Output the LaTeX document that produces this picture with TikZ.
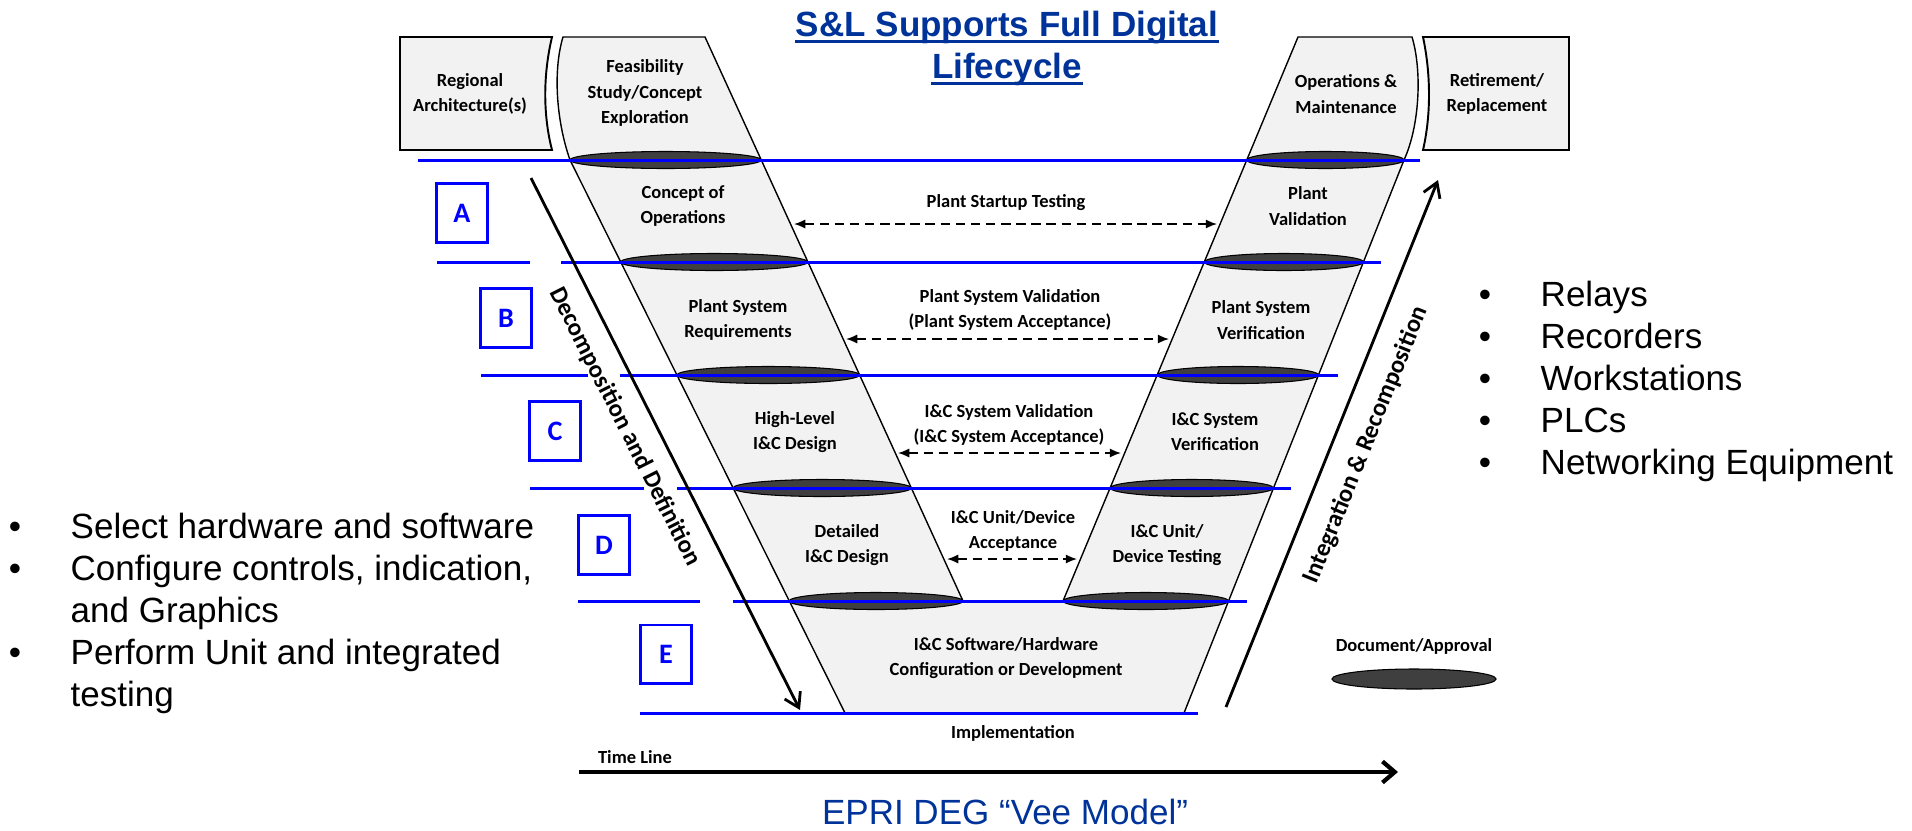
\documentclass[tikz,border=0pt]{standalone}
\usepackage{fontspec}
\setmainfont{Liberation Sans}
\newfontfamily\labfont{Carlito}
\usetikzlibrary{arrows.meta}
\definecolor{veefill}{HTML}{F2F2F2}
\definecolor{docgray}{HTML}{3F3F3F}
\definecolor{lineblue}{HTML}{0000FF}
\definecolor{titleblue}{HTML}{003399}
\begin{document}
\begin{tikzpicture}[x=0.01cm,y=-0.01cm,
  vee/.style={fill=veefill,draw=black,line width=0.4pt},
  endbox/.style={fill=veefill,draw=black,line width=0.55pt},
  doc/.style={fill=docgray,draw=black,line width=0.3pt},
  bluerule/.style={draw=lineblue,line width=0.85pt},
  lab/.style={font={\labfont\bfseries\fontsize{5.26pt}{7.2pt}\selectfont},align=center,inner sep=0pt},
  bigtxt/.style={font={\labfont\bfseries\fontsize{7.05pt}{8.5pt}\selectfont},inner sep=0pt},
  letterbox/.style={draw=lineblue,line width=0.85pt,text=lineblue,font={\labfont\bfseries\fontsize{8pt}{9.6pt}\selectfont},minimum width=0.5cm,minimum height=0.58cm,inner sep=0pt},
  testarrow/.style={line width=0.45pt,dash pattern=on 2.7pt off 1.6pt,{Latex[length=3.2pt,width=2.6pt]}-{Latex[length=3.2pt,width=2.6pt]}},
  flowarrow/.style={line width=0.8pt,-{Straight Barb[length=4pt,width=5pt]}},
  timearrow/.style={line width=1.2pt,-{Straight Barb[length=3.5pt,width=6pt]}},
  bultext/.style={font={\fontsize{9.96pt}{11.95pt}\selectfont},inner sep=0pt,anchor=base west},
  bulmark/.style={font={\fontsize{9.96pt}{11.95pt}\selectfont},inner sep=0pt,anchor=base},
  titletext/.style={font={\bfseries\fontsize{9.96pt}{11.95pt}\selectfont},text=titleblue,inner sep=0pt,anchor=base},
]
\useasboundingbox (0,0) rectangle (1912,830);

% end boxes
\path[endbox] (400,37) -- (552,37) .. controls (543,75) and (543,115) .. (552,150) -- (400,150) -- cycle;
\path[endbox] (1423,37) -- (1569,37) -- (1569,150) -- (1423,150) .. controls (1431,115) and (1431,75) .. (1423,37) -- cycle;

% vee body
\path[vee] (563,37) -- (705,37) -- (963,601) -- (1063,601) -- (1298,37) -- (1412,37)
  .. controls (1422,70) and (1420,125) .. (1404,160) -- (1184,713) -- (845,713) -- (570,160)
  .. controls (556,120) and (553,70) .. (563,37) -- cycle;

% document / approval ellipses
\path[doc] (665.6,160) ellipse [x radius=0.956cm, y radius=0.085cm];
\path[doc] (714.2,262) ellipse [x radius=0.936cm, y radius=0.085cm];
\path[doc] (768.2,375) ellipse [x radius=0.913cm, y radius=0.085cm];
\path[doc] (822.1,488) ellipse [x radius=0.891cm, y radius=0.085cm];
\path[doc] (876.1,601) ellipse [x radius=0.869cm, y radius=0.085cm];
\path[doc] (1325.4,160) ellipse [x radius=0.786cm, y radius=0.085cm];
\path[doc] (1283.9,262) ellipse [x radius=0.795cm, y radius=0.085cm];
\path[doc] (1237.9,375) ellipse [x radius=0.805cm, y radius=0.085cm];
\path[doc] (1191.9,488) ellipse [x radius=0.815cm, y radius=0.085cm];
\path[doc] (1145.8,601) ellipse [x radius=0.827cm, y radius=0.085cm];
\path[doc] (1414,679) ellipse [x radius=0.82cm, y radius=0.1cm];

% blue phase lines
\draw[bluerule] (418,160) -- (1420,160);
\draw[bluerule] (437,262) -- (530,262);
\draw[bluerule] (561,262) -- (1381,262);
\draw[bluerule] (481,375) -- (588,375);
\draw[bluerule] (620,375) -- (1338,375);
\draw[bluerule] (530,488) -- (644,488);
\draw[bluerule] (677,488) -- (1291,488);
\draw[bluerule] (578,601) -- (700,601);
\draw[bluerule] (733,601) -- (1247,601);
\draw[bluerule] (640,713) -- (1198,713);

% letter boxes
\node[letterbox] (boxA) at (462,213) {A};
\node[letterbox] (boxB) at (506,318) {B};
\node[letterbox] (boxC) at (555,431) {C};
\node[letterbox] (boxD) at (604,545) {D};
\node[letterbox] (boxE) at (666,654) {E};

% title
\node[titletext] (t1) at (1007,36) {S\&L Supports Full Digital};
\node[titletext] (t2) at (1007,78) {Lifecycle};
\draw[titleblue,line width=0.85pt] ([yshift=-0.05cm]t1.base west) -- ([yshift=-0.05cm]t1.base east);
\draw[titleblue,line width=0.85pt] ([yshift=-0.05cm]t2.base west) -- ([yshift=-0.05cm]t2.base east);

% stage labels
\node[lab] (regarch) at (470,94) {Regional\\Architecture(s)};
\node[lab] (feas) at (645,93) {Feasibility\\Study/Concept\\Exploration};
\node[lab] (om) at (1346,94) {Operations \&\\Maintenance};
\node[lab] (retire) at (1497,94) {Retirement/\\Replacement};
\node[lab] (conops) at (683,206) {Concept of\\Operations};
\node[lab] (psreq) at (738,320) {Plant System\\Requirements};
\node[lab] (hlicd) at (795,432) {High-Level\\I\&C Design};
\node[lab] (dicd) at (847,545) {Detailed\\I\&C Design};
\node[lab] (pval) at (1308,206) {Plant\\Validation};
\node[lab] (psver) at (1261,320) {Plant System\\Verification};
\node[lab] (icsver) at (1215,432) {I\&C System\\Verification};
\node[lab] (icudt) at (1167,545) {I\&C Unit/\\Device Testing};
\node[lab] (icsw) at (1006,658) {I\&C Software/Hardware\\Configuration or Development};
\node[lab] (impl) at (1013,733) {Implementation};
\node[lab] (timel) at (635,757) {Time Line};
\node[lab] (docapp) at (1414,646) {Document/Approval};

% test labels
\node[lab] (pstlab) at (1006,203) {Plant Startup Testing};
\node[lab] (psvlab) at (1010,310) {Plant System Validation\\(Plant System Acceptance)};
\node[lab] (icsvlab) at (1009,425) {I\&C System Validation\\(I\&C System Acceptance)};
\node[lab] (icudlab) at (1013,531) {I\&C Unit/Device\\Acceptance};

% test arrows
\coordinate (pst-w) at (794,224);
\coordinate (pst-e) at (1217,224);
\coordinate (psv-w) at (846,339);
\coordinate (psv-e) at (1169,339);
\coordinate (icsv-w) at (898,453);
\coordinate (icsv-e) at (1121,453);
\coordinate (icud-w) at (947,559);
\coordinate (icud-e) at (1077,559);
\draw[testarrow] (pst-w) -- (pst-e);
\draw[testarrow] (psv-w) -- (psv-e);
\draw[testarrow] (icsv-w) -- (icsv-e);
\draw[testarrow] (icud-w) -- (icud-e);

% decomposition / integration / time line
\coordinate (dec-s) at (531,178);
\coordinate (dec-e) at (800,710);
\coordinate (int-s) at (1226,707);
\coordinate (int-e) at (1438,180);
\coordinate (time-s) at (579,772);
\coordinate (time-e) at (1398,772);
\draw[flowarrow] (dec-s) -- (dec-e);
\draw[flowarrow] (int-s) -- (int-e);
\draw[timearrow] (time-s) -- (time-e);
\node[bigtxt,rotate=-63.2] (decomp) at (625,427) {Decomposition and Definition};
\node[bigtxt,rotate=68.1] (integ) at (1366,445) {Integration \& Recomposition};

% bullet lists
\node[bulmark] (lb1) at (15,538) {•};
\node[bultext] (lt1) at (70,538) {Select hardware and software};
\node[bulmark] (lb2) at (15,580) {•};
\node[bultext] (lt2) at (70,580) {Configure controls, indication,};
\node[bultext] (lt2b) at (70,622) {and Graphics};
\node[bulmark] (lb3) at (15,664) {•};
\node[bultext] (lt3) at (70,664) {Perform Unit and integrated};
\node[bultext] (lt3b) at (70,706) {testing};

\node[bulmark] (rb1) at (1485,306) {•};
\node[bultext] (rt1) at (1540,306) {Relays};
\node[bulmark] (rb2) at (1485,348) {•};
\node[bultext] (rt2) at (1540,348) {Recorders};
\node[bulmark] (rb3) at (1485,390) {•};
\node[bultext] (rt3) at (1540,390) {Workstations};
\node[bulmark] (rb4) at (1485,432) {•};
\node[bultext] (rt4) at (1540,432) {PLCs};
\node[bulmark] (rb5) at (1485,474) {•};
\node[bultext] (rt5) at (1540,474) {Networking Equipment};

% caption
\node[font={\fontsize{9.96pt}{11.95pt}\selectfont},text=titleblue,inner sep=0pt,anchor=base] (caption) at (1005,824) {EPRI DEG “Vee Model”};
\end{tikzpicture}
\end{document}
